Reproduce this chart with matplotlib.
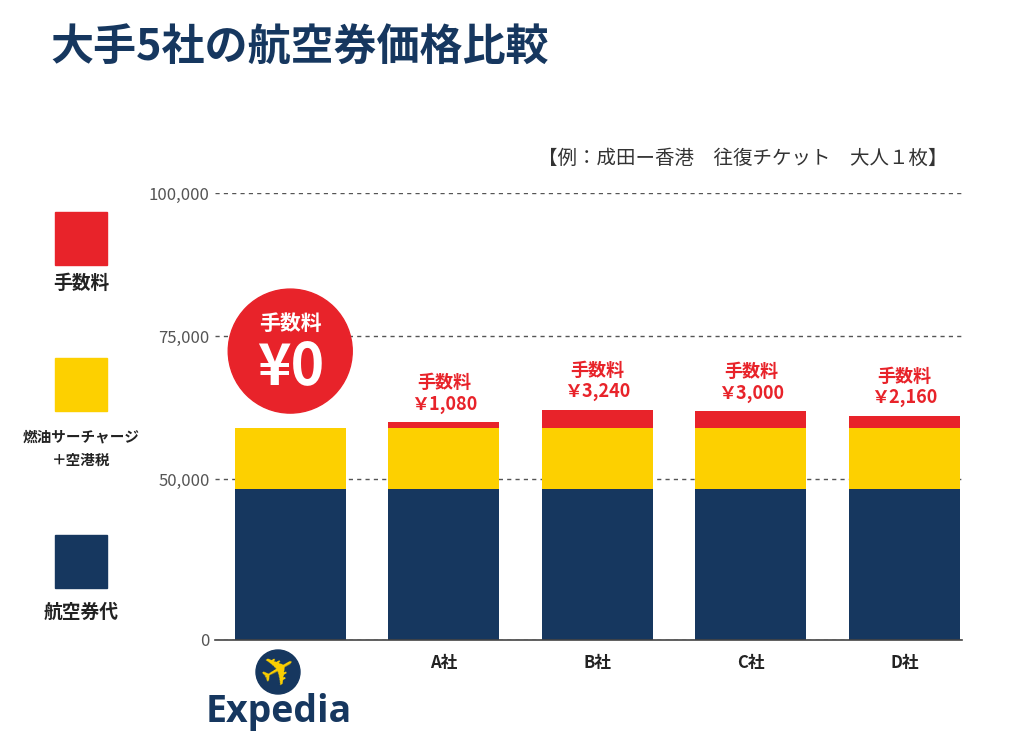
import numpy as np
import matplotlib
matplotlib.use('Agg')
import matplotlib.pyplot as plt
from matplotlib.patches import Circle, Rectangle
from matplotlib.transforms import IdentityTransform
from matplotlib.ticker import FuncFormatter

plt.rcParams['font.family'] = ['Noto Sans CJK JP', 'DejaVu Sans']

# data
companies = ['Expedia', 'A社', 'B社', 'C社', 'D社']
fare = [46900, 46900, 46900, 46900, 46900]        # 航空券代
surcharge = [12000, 12000, 12000, 12000, 12000]   # 燃油サーチャージ+空港税
fee = [0, 1080, 3240, 3000, 2160]                 # 手数料
yticks = [0, 50000, 75000, 100000]

NAVY = '#16375f'
YELLOW = '#fdd000'
RED = '#e8232a'


# the original axis is squeezed below 50,000
def fwd(y):
    y = np.asarray(y, dtype=float)
    return np.where(y <= 50000, y * 0.00322, 161 + (y - 50000) * 0.00572)


def inv(p):
    p = np.asarray(p, dtype=float)
    return np.where(p <= 161, p / 0.00322, 50000 + (p - 161) / 0.00572)


fig = plt.figure(figsize=(10.09, 7.49), dpi=100)
ax = fig.add_axes([215 / 1009, 109 / 749, 747 / 1009, 447 / 749])
ax.set_yscale('function', functions=(fwd, inv))
ax.set_ylim(0, 100000)
ax.set_xlim(-0.49, 4.375)

x = np.arange(len(companies))
w = 0.723
fare = np.array(fare)
surcharge = np.array(surcharge)
fee = np.array(fee)
ax.bar(x, fare, w, color=NAVY, zorder=3)
ax.bar(x, surcharge, w, bottom=fare, color=YELLOW, zorder=3)
ax.bar(x, fee, w, bottom=fare + surcharge, color=RED, zorder=3)
tops = fare + surcharge + fee

# axes styling
ax.set_yticks(yticks)
ax.yaxis.set_major_formatter(FuncFormatter(lambda v, p: f'{int(round(v)):,}'))
ax.yaxis.grid(True, linestyle=(0, (3, 3)), color='#555555', lw=1)
ax.set_axisbelow(True)
ax.tick_params(axis='y', length=0, pad=4, labelsize=12, labelcolor='#555555')
ax.set_xticks(x)
ax.set_xticklabels([''] + companies[1:], fontsize=12, fontweight='bold', color='#222222')
ax.tick_params(axis='x', length=0, pad=10)
for s in ['top', 'right', 'left']:
    ax.spines[s].set_visible(False)
ax.spines['bottom'].set_color('#444444')
ax.spines['bottom'].set_linewidth(1.2)
ax.spines['bottom'].set_zorder(4)

# fee labels
for i in range(1, len(companies)):
    ax.annotate(f'手数料\n￥{fee[i]:,}', (x[i], tops[i]), xytext=(0, 6),
                textcoords='offset points', ha='center', va='bottom',
                color=RED, fontsize=13, fontweight='bold', linespacing=1.15)

# red badge over the Expedia bar
cx, cy = ax.transData.transform((x[0], tops[0]))
ax.add_artist(Circle((cx, cy + 77), 62, transform=IdentityTransform(),
                     color=RED, clip_on=False, zorder=6))
ax.annotate('手数料', (x[0], tops[0]), xytext=(0, 75), textcoords='offset points',
            ha='center', va='center', color='white', fontsize=15,
            fontweight='bold', zorder=7)
ax.annotate('¥0', (x[0], tops[0]), xytext=(0, 44), textcoords='offset points',
            ha='center', va='center', color='white', fontsize=41,
            fontweight='bold', zorder=7)

# legend on the left
legend = [(RED, 212, '手数料', 283, 13.5),
          (YELLOW, 358, '燃油サーチャージ\n＋空港税', 448, 10.5),
          (NAVY, 535, '航空券代', 612, 13.5)]
for col, top, lab, ly, fs in legend:
    fig.add_artist(Rectangle((55 / 1009, 1 - (top + 53) / 749), 52 / 1009, 53 / 749,
                             transform=fig.transFigure, color=col))
    fig.text(81 / 1009, 1 - ly / 749, lab, ha='center', va='center', fontsize=fs,
             fontweight='bold', color='#222222', linespacing=1.55)

# titles
fig.text(50 / 1009, 1 - 47 / 749, '大手5社の航空券価格比較', fontsize=31,
         fontweight='bold', color=NAVY, va='center')
fig.text(948 / 1009, 1 - 158 / 749, '【例：成田ー香港　往復チケット　大人１枚】',
         ha='right', va='center', fontsize=14, color='#333333')

# Expedia logo under the first bar
fig.add_artist(Circle((278, 749 - 672), 22, transform=IdentityTransform(), color=NAVY))
fig.text(279 / 1009, 1 - 671 / 749, '✈', fontsize=31, color=YELLOW, rotation=30,
         ha='center', va='center', family='DejaVu Sans')
fig.text(279 / 1009, 1 - 712 / 749, 'Expedia', fontsize=27, fontweight='bold',
         color=NAVY, ha='center', va='center', family='Open Sans')

fig.savefig('out.png', dpi=100)
